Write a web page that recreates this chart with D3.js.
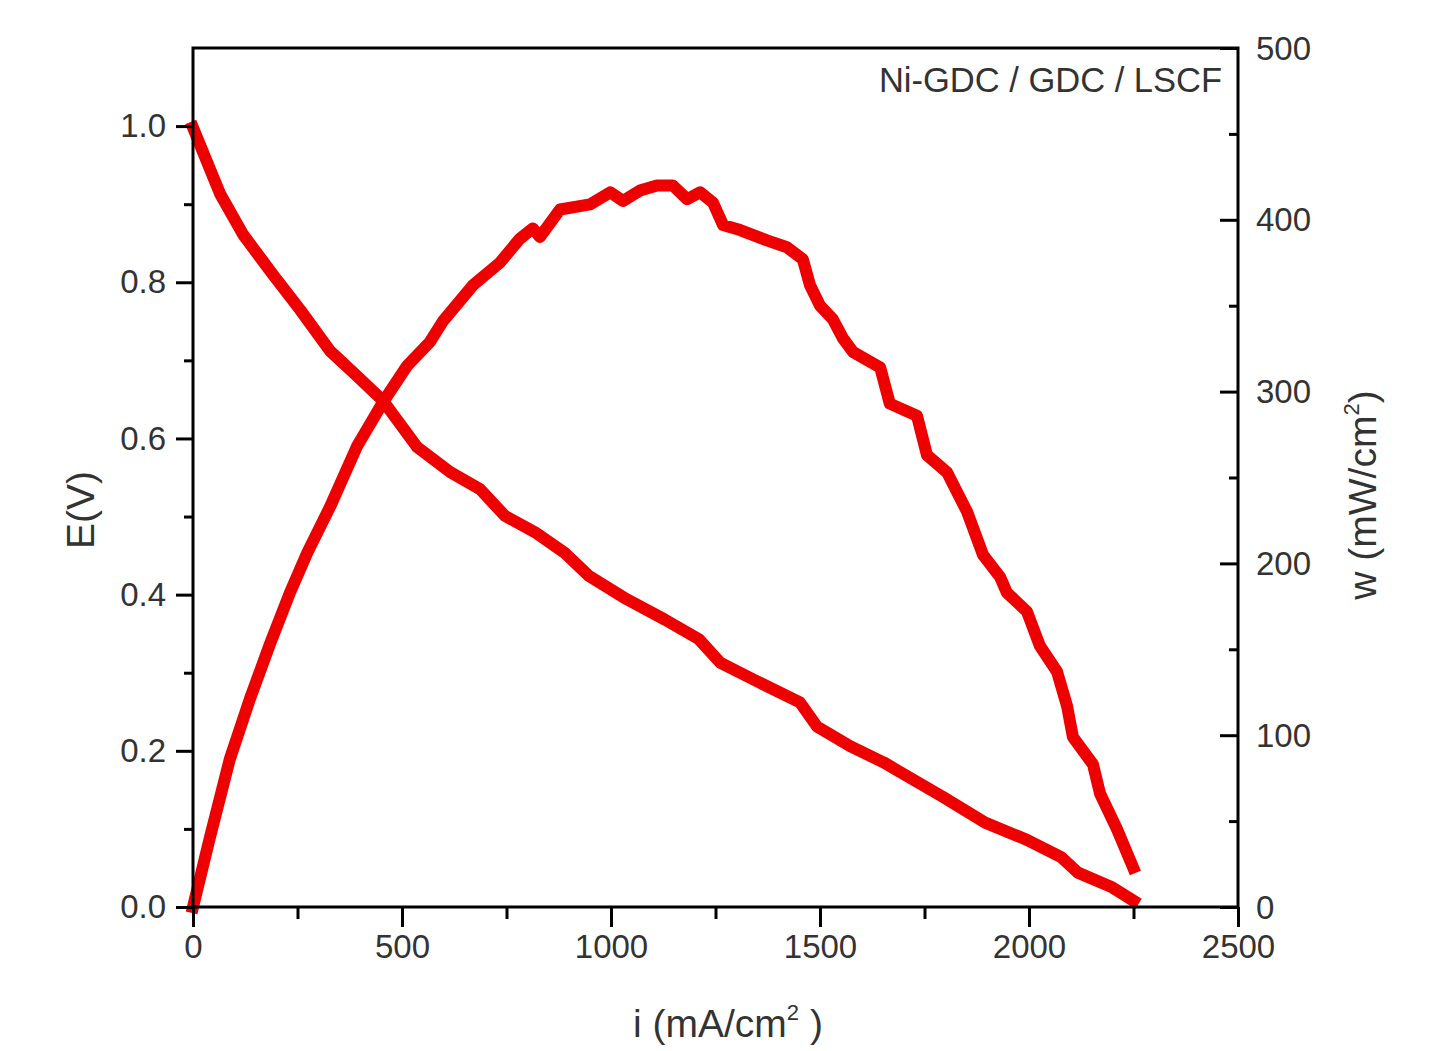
<!DOCTYPE html>
<html><head><meta charset="utf-8">
<script src="https://cdn.jsdelivr.net/npm/d3@7"></script>
<style>
html,body{margin:0;padding:0;background:#fff;}
text{font-family:"Liberation Sans",Arial,sans-serif;}
</style></head>
<body>
<svg id="chart" width="1437" height="1051"></svg>
<script>
// Voltage curve E (V) vs current density i (mA/cm2)
const iE = [0, 65, 120, 191, 256, 328, 392, 455, 536, 615, 687, 746, 818, 888, 947, 1038, 1129, 1210, 1261, 1342, 1452, 1493, 1572, 1653, 1694, 1794, 1895, 1995, 2077, 2117, 2196, 2250];
const E  = [0.998, 0.913, 0.861, 0.810, 0.765, 0.712, 0.680, 0.648, 0.589, 0.557, 0.535, 0.501, 0.480, 0.454, 0.424, 0.394, 0.368, 0.343, 0.313, 0.291, 0.262, 0.231, 0.206, 0.185, 0.172, 0.141, 0.108, 0.086, 0.064, 0.044, 0.026, 0.008];
// Power density w (mW/cm2) vs i
const iW = [0, 41, 88, 136, 184, 232, 273, 328, 392, 455, 512, 567, 598, 670, 734, 782, 813, 830, 878, 950, 998, 1029, 1069, 1110, 1148, 1182, 1213, 1244, 1268, 1309, 1373, 1421, 1459, 1476, 1500, 1531, 1555, 1579, 1644, 1667, 1732, 1756, 1804, 1852, 1890, 1931, 1947, 1995, 2026, 2067, 2091, 2105, 2153, 2170, 2211, 2249];
const W  = [0, 41, 86, 121, 153, 183, 206, 233, 268, 294, 315, 329, 341, 362, 375, 389, 395, 390, 406, 409, 416, 411, 417, 420, 420, 412, 416, 410, 397, 394, 388, 384, 377, 362, 350, 342, 331, 323, 314, 293, 286, 263, 253, 230, 205, 192, 183, 172, 152, 137, 117, 99, 83, 66, 45, 23];

const xTicks = [0, 500, 1000, 1500, 2000, 2500];
const yLeftTicks = [0.0, 0.2, 0.4, 0.6, 0.8, 1.0];
const yRightTicks = [0, 100, 200, 300, 400, 500];
const annotation = "Ni-GDC / GDC / LSCF";

const svg = d3.select("#chart");
const L = 193, R = 1238, T = 48, B = 907;
const x = d3.scaleLinear().domain([0, 2500]).range([L, R]);
const yL = d3.scaleLinear().domain([0, 1.1]).range([B, T]);
const yR = d3.scaleLinear().domain([0, 500]).range([B, T]);

const red = "#ee0000";
const TICKFONT = "33px", TITLEFONT = "39px";
const lineE = d3.line().x((d,k)=>x(iE[k])).y(d=>yL(d));
const lineW = d3.line().x((d,k)=>x(iW[k])).y(d=>yR(d));

svg.append("path").attr("d", lineE(E)).attr("fill","none").attr("stroke",red)
  .attr("stroke-width",12).attr("stroke-linejoin","round").attr("stroke-linecap","square");
svg.append("path").attr("d", lineW(W)).attr("fill","none").attr("stroke",red)
  .attr("stroke-width",12).attr("stroke-linejoin","round").attr("stroke-linecap","square");

// frame
svg.append("rect").attr("x",L).attr("y",T).attr("width",R-L).attr("height",B-T)
  .attr("fill","none").attr("stroke","#000").attr("stroke-width",3);

function style(g){
  g.select(".domain").remove();
  g.selectAll("line").attr("stroke","#000").attr("stroke-width",3);
  g.selectAll("text").attr("fill","#333").style("font-size",TICKFONT)
    .style("font-family","'Liberation Sans', Arial, sans-serif");
}

// minor ticks
const xMinor = d3.range(250, 2500, 500);
const yLMinor = d3.range(0.1, 1.1, 0.2);
const yRMinor = d3.range(50, 500, 100);

svg.append("g").attr("transform",`translate(0,${B})`)
  .call(d3.axisBottom(x).tickValues(xMinor).tickSize(12).tickFormat(""))
  .call(style);
svg.append("g").attr("transform",`translate(0,${B})`)
  .call(d3.axisBottom(x).tickValues(xTicks).tickSize(20).tickPadding(8).tickFormat(d3.format("d")))
  .call(style);

svg.append("g").attr("transform",`translate(${L},0)`)
  .call(d3.axisLeft(yL).tickValues(yLMinor).tickSize(9).tickFormat(""))
  .call(style);
svg.append("g").attr("transform",`translate(${L},0)`)
  .call(d3.axisLeft(yL).tickValues(yLeftTicks).tickSize(17).tickPadding(10).tickFormat(d3.format(".1f")))
  .call(style);

svg.append("g").attr("transform",`translate(${R},0)`)
  .call(d3.axisLeft(yR).tickValues(yRMinor).tickSize(9).tickFormat(""))
  .call(style);
svg.append("g").attr("transform",`translate(${R},0)`)
  .call(d3.axisLeft(yR).tickValues(yRightTicks).tickSize(18).tickFormat(""))
  .call(style);
// right labels outside
svg.append("g").selectAll("text").data(yRightTicks).join("text")
  .attr("x", R + 18).attr("y", d=>yR(d)).attr("dy","0.35em")
  .attr("fill","#333").style("font-size",TICKFONT).text(d=>d);

// axis titles
svg.append("text").attr("transform","translate(94,510) rotate(-90)")
  .attr("text-anchor","middle").attr("fill","#333").style("font-size",TITLEFONT).text("E(V)");

const xt = svg.append("text").attr("x",728).attr("y",1037).attr("text-anchor","middle")
  .attr("fill","#333").style("font-size",TITLEFONT);
xt.append("tspan").text("i (mA/cm");
xt.append("tspan").attr("dy",-17).style("font-size","22px").text("2");
xt.append("tspan").attr("dy",17).text(" )");

const yt = svg.append("text").attr("transform","translate(1376,495) rotate(-90)")
  .attr("text-anchor","middle").attr("fill","#333").style("font-size",TITLEFONT);
yt.append("tspan").text("w (mW/cm");
yt.append("tspan").attr("dy",-17).style("font-size","22px").text("2");
yt.append("tspan").attr("dy",17).text(")");

svg.append("text").attr("x",1222).attr("y",92).attr("text-anchor","end")
  .attr("fill","#333").style("font-size","34.5px").text(annotation);
</script>
</body></html>
